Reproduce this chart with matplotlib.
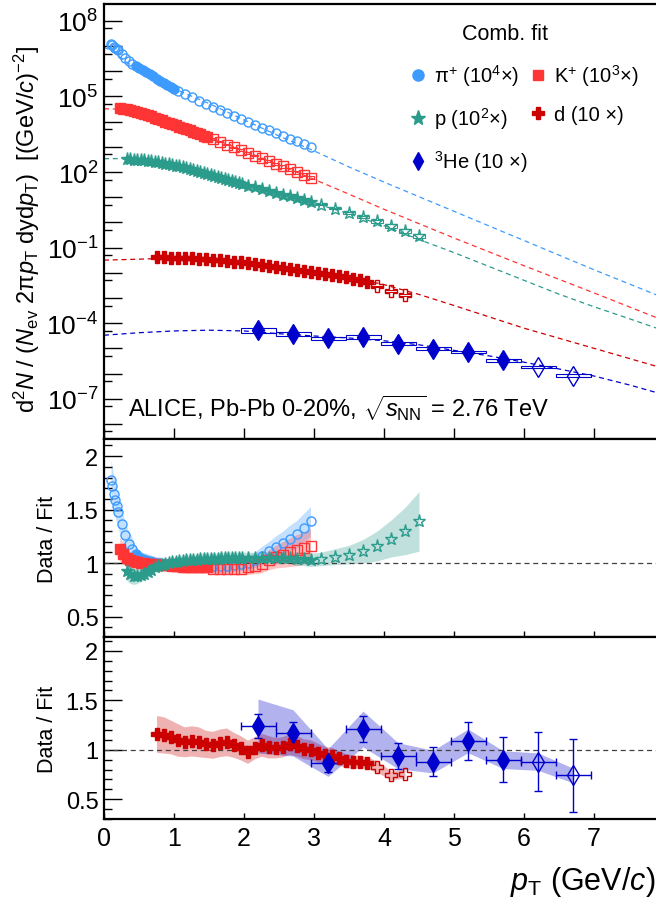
import numpy as np
import matplotlib
matplotlib.use('Agg')
import matplotlib.pyplot as plt
from matplotlib.patches import Rectangle
from matplotlib.lines import Line2D
from matplotlib.ticker import FixedLocator, FuncFormatter, NullFormatter

plt.rcParams['font.family'] = ['Liberation Sans', 'DejaVu Sans']
plt.rcParams['mathtext.fontset'] = 'custom'
plt.rcParams['mathtext.rm'] = 'Liberation Sans'
plt.rcParams['mathtext.it'] = 'Liberation Sans:italic'
plt.rcParams['mathtext.bf'] = 'Liberation Sans:bold'
plt.rcParams['mathtext.sf'] = 'Liberation Sans'

'''Data read off the picture (spectra as log10 of the scaled yield)'''
# pi+ : 10 open (low pT), 12 filled (fit range), 20 open (high pT)
pt_pi = [0.1, 0.12, 0.14, 0.16, 0.18, 0.2, 0.25, 0.3, 0.35, 0.4,
         0.45, 0.5, 0.55, 0.6, 0.65, 0.7, 0.75, 0.8, 0.85, 0.9, 0.95, 1.0,
         1.05, 1.15, 1.25, 1.35, 1.45, 1.55, 1.65, 1.75, 1.85, 1.95,
         2.05, 2.15, 2.25, 2.35, 2.45, 2.55, 2.65, 2.75, 2.85, 2.95]
logy_pi = [7.08, 7.03, 6.98, 6.93, 6.88, 6.83, 6.68, 6.53, 6.41, 6.30,
           6.2, 6.12, 6.04, 5.96, 5.88, 5.8, 5.71, 5.63, 5.55, 5.46, 5.38, 5.3,
           5.23, 5.09, 4.96, 4.83, 4.71, 4.59, 4.47, 4.35, 4.23, 4.11,
           3.99, 3.88, 3.76, 3.65, 3.54, 3.43, 3.32, 3.22, 3.11, 3.0]
ratio_pi = [1.78, 1.72, 1.65, 1.59, 1.53, 1.48, 1.37, 1.26, 1.18, 1.13,
            1.09, 1.06, 1.04, 1.03, 1.02, 1.01, 1.0, 1.0, 0.99, 0.99, 0.99, 0.99,
            0.98, 0.98, 0.97, 0.97, 0.97, 0.97, 0.97, 0.97, 0.98, 0.99,
            1.0, 1.03, 1.07, 1.11, 1.15, 1.19, 1.23, 1.27, 1.33, 1.39]
sys_pi = [0.1] * 10 + [0.06] * 12 + [0.06] * 10 + [0.07, 0.07, 0.08, 0.08, 0.09, 0.09, 0.1, 0.1, 0.1, 0.1]
fit_pt_pi = [0, 0.1, 0.2, 0.3, 0.4, 0.5, 0.75, 1.0, 1.5, 2.0, 2.5, 3.0, 3.5, 4.0, 4.5, 5.0, 6.0, 7.0, 8.0]
fit_pi = [6.95, 6.83, 6.63, 6.39, 6.23, 6.1, 5.7, 5.31, 4.72, 4.07, 3.43, 2.84, 2.2, 1.6, 1.02, 0.44, -0.72, -1.88, -3.0]

# K+ : 26 filled, 15 open
pt_k = [0.225, 0.275, 0.325, 0.375, 0.425, 0.475, 0.525, 0.575, 0.625, 0.675, 0.725, 0.775, 0.825,
        0.875, 0.925, 0.975, 1.025, 1.075, 1.125, 1.175, 1.225, 1.275, 1.325, 1.375, 1.425, 1.475,
        1.55, 1.65, 1.75, 1.85, 1.95, 2.05, 2.15, 2.25, 2.35, 2.45, 2.55, 2.65, 2.75, 2.85, 2.95]
logy_k = [4.54, 4.52, 4.49, 4.46, 4.43, 4.39, 4.35, 4.31, 4.26, 4.21, 4.16, 4.11, 4.05,
          4.0, 3.95, 3.9, 3.85, 3.8, 3.75, 3.7, 3.65, 3.6, 3.54, 3.49, 3.44, 3.39,
          3.31, 3.2, 3.09, 2.98, 2.87, 2.76, 2.65, 2.54, 2.43, 2.32, 2.22, 2.11, 2.0, 1.89, 1.78]
ratio_k = [1.13, 1.09, 1.05, 1.03, 1.02, 1.01, 1.0, 1.0, 0.99, 0.99, 0.99, 0.98, 0.98,
           0.98, 0.98, 0.97, 0.97, 0.97, 0.96, 0.96, 0.96, 0.96, 0.96, 0.96, 0.96, 0.96,
           0.95, 0.95, 0.95, 0.95, 0.95, 0.96, 0.97, 0.99, 1.03, 1.06, 1.08, 1.1, 1.12, 1.14, 1.16]
sys_k = [0.1, 0.09, 0.08, 0.07, 0.06] + [0.05] * 21 + [0.05, 0.05, 0.05, 0.06, 0.06, 0.07, 0.07, 0.08, 0.09, 0.1, 0.11, 0.12, 0.13, 0.13, 0.14]
fit_pt_k = [0, 0.2, 0.5, 1.0, 1.5, 2.0, 2.5, 3.0, 3.5, 4.0, 4.5, 5.0, 6.0, 7.0, 8.0]
fit_k = [4.51, 4.5, 4.37, 3.88, 3.39, 2.84, 2.28, 1.71, 1.12, 0.52, -0.05, -0.62, -1.72, -2.8, -3.9]

# p : 44 filled, 8 open
pt_p = [0.325, 0.375, 0.425, 0.475, 0.525, 0.575, 0.625, 0.675, 0.725, 0.775, 0.825, 0.875,
        0.925, 0.975, 1.025, 1.075, 1.125, 1.175, 1.225, 1.275, 1.325, 1.375, 1.425, 1.475,
        1.525, 1.575, 1.625, 1.675, 1.725, 1.775, 1.825, 1.875, 1.925, 1.975,
        2.05, 2.15, 2.25, 2.35, 2.45, 2.55, 2.65, 2.75, 2.85, 2.95,
        3.1, 3.3, 3.5, 3.7, 3.9, 4.1, 4.3, 4.5]
logy_p = [2.50, 2.50, 2.49, 2.48, 2.47, 2.46, 2.44, 2.42, 2.40, 2.38, 2.36, 2.33,
          2.31, 2.28, 2.25, 2.22, 2.19, 2.15, 2.12, 2.08, 2.04, 2.0, 1.96, 1.92,
          1.88, 1.84, 1.80, 1.76, 1.72, 1.68, 1.64, 1.60, 1.56, 1.52,
          1.46, 1.39, 1.31, 1.24, 1.17, 1.1, 1.03, 0.96, 0.89, 0.82,
          0.7, 0.55, 0.38, 0.21, 0.04, -0.14, -0.33, -0.53]
ratio_p = [0.93, 0.9, 0.88, 0.88, 0.89, 0.9, 0.92, 0.94, 0.96, 0.97, 0.98, 0.99,
           1.0, 1.01, 1.01, 1.02, 1.02, 1.03, 1.03, 1.03, 1.03, 1.04, 1.04, 1.04,
           1.04, 1.04, 1.04, 1.05, 1.05, 1.05, 1.05, 1.05, 1.05, 1.05,
           1.05, 1.05, 1.05, 1.05, 1.05, 1.05, 1.05, 1.04, 1.04, 1.03,
           1.04, 1.06, 1.08, 1.11, 1.16, 1.23, 1.3, 1.39]
sys_p = [0.1, 0.1, 0.09, 0.08, 0.07, 0.06] + [0.05] * 28 + [0.05] * 7 + [0.06, 0.06, 0.06] + \
        [0.06, 0.07, 0.08, 0.1, 0.12, 0.14, 0.17, 0.2]
fit_pt_p = [0, 0.3, 0.5, 1.0, 1.5, 2.0, 2.5, 3.0, 3.5, 4.0, 4.5, 5.0, 5.5, 6.0, 6.5, 7.0, 7.5, 8.0]
fit_p = [2.53, 2.53, 2.51, 2.24, 1.88, 1.47, 1.11, 0.77, 0.34, -0.13, -0.68, -1.2, -1.75, -2.3, -2.85, -3.35, -3.82, -4.3]

# d : 31 filled, 3 open
pt_d = [0.75, 0.85, 0.95, 1.05, 1.15, 1.25, 1.35, 1.45, 1.55, 1.65, 1.75, 1.85, 1.95, 2.05, 2.15, 2.25,
        2.35, 2.45, 2.55, 2.65, 2.75, 2.85, 2.95, 3.05, 3.15, 3.25, 3.35, 3.45, 3.55, 3.65, 3.75,
        3.9, 4.1, 4.3]
logy_d = [-1.38, -1.39, -1.40, -1.41, -1.42, -1.43, -1.45, -1.47, -1.49, -1.51, -1.54, -1.56, -1.59,
          -1.62, -1.66, -1.70, -1.73, -1.77, -1.80, -1.84, -1.88, -1.92, -1.96, -2.0, -2.04, -2.08,
          -2.13, -2.18, -2.23, -2.29, -2.35, -2.54, -2.72, -2.88]
ratio_d = [1.16, 1.15, 1.13, 1.1, 1.08, 1.09, 1.08, 1.06, 1.05, 1.07, 1.08, 1.05, 1.02, 0.98, 1.02, 1.05,
           1.03, 1.02, 1.03, 1.06, 1.04, 1.01, 1.0, 0.97, 0.95, 0.94, 0.92, 0.89, 0.88, 0.88, 0.87,
           0.83, 0.74, 0.76]
sys_d = [0.16, 0.16, 0.15, 0.15, 0.14, 0.14, 0.14, 0.13, 0.13, 0.13, 0.13, 0.12, 0.12, 0.12, 0.11, 0.11,
         0.11, 0.1, 0.1, 0.1, 0.1, 0.1, 0.1, 0.1, 0.09, 0.09, 0.08, 0.08, 0.08, 0.07, 0.07,
         0.07, 0.06, 0.06]
fit_pt_d = [0, 0.5, 0.75, 1.0, 1.5, 2.0, 2.5, 3.0, 3.5, 4.0, 4.5, 5.0, 6.0, 7.0, 8.0]
fit_d = [-1.5, -1.46, -1.44, -1.45, -1.51, -1.62, -1.79, -1.97, -2.17, -2.47, -2.86, -3.3, -4.2, -5.0, -5.8]

# 3He : 8 filled, 2 open
pt_he = [2.2, 2.7, 3.2, 3.7, 4.2, 4.7, 5.2, 5.7, 6.2, 6.7]
logy_he = [-4.28, -4.42, -4.61, -4.55, -4.81, -5.01, -5.14, -5.48, -5.74, -6.08]
ratio_he = [1.24, 1.17, 0.87, 1.21, 0.94, 0.88, 1.09, 0.9, 0.88, 0.74]
stat_he = [0.12, 0.11, 0.09, 0.13, 0.13, 0.15, 0.19, 0.23, 0.3, 0.37]
sys_he = [0.22, 0.2, 0.16, 0.15, 0.14, 0.13, 0.11, 0.1, 0.1, 0.1]
fit_pt_he = [0, 0.5, 1.0, 1.5, 2.0, 2.5, 3.0, 3.5, 4.0, 4.5, 5.0, 5.5, 6.0, 6.5, 7.0, 7.5, 8.0]
fit_he = [-4.48, -4.38, -4.31, -4.28, -4.31, -4.42, -4.51, -4.59, -4.7, -4.86, -5.08, -5.3, -5.55, -5.82, -6.1, -6.45, -6.84]

c_pi, c_k, c_p, c_d, c_he = '#3d9bff', '#ff3535', '#2b9b8c', '#cc0000', '#0000cc'

'''Figure and the three pads'''
W, H = 656, 903
fig = plt.figure(figsize=(W / 100, H / 100), dpi=100)

def pad(l, t, r, b):
    return [l / W, 1 - b / H, (r - l) / W, (b - t) / H]

ax1 = fig.add_axes(pad(104, 5, 664, 440))
ax2 = fig.add_axes(pad(104, 440, 664, 638))
ax3 = fig.add_axes(pad(104, 638, 664, 820))

DASH = (0, (4, 3))

def points(ax, x, y, lo, hi, marker, ms, color, filled):
    x = np.asarray(x)[lo:hi]
    y = np.asarray(y)[lo:hi]
    if filled:
        ax.plot(x, y, ls='none', marker=marker, ms=ms, color=color, mec=color, zorder=4)
    else:
        ax.plot(x, y, ls='none', marker=marker, ms=ms, mfc='none', mec=color, mew=1.0, zorder=4)

def boxes(ax, x, y, frac, half, color):
    for xi, yi, fi in zip(x, y, frac):
        ax.add_patch(Rectangle((xi - half, yi * (1 - fi)), 2 * half, 2 * yi * fi,
                               fill=False, ec=color, lw=0.8, zorder=3))

'''Top: spectra'''
sp_pi = 10 ** np.array(logy_pi)
sp_k = 10 ** np.array(logy_k)
sp_p = 10 ** np.array(logy_p)
sp_d = 10 ** np.array(logy_d)
sp_he = 10 ** np.array(logy_he)

ax1.plot(fit_pt_pi, 10 ** np.array(fit_pi), ls=DASH, lw=0.9, color=c_pi, zorder=2)
ax1.plot(fit_pt_k, 10 ** np.array(fit_k), ls=DASH, lw=0.9, color=c_k, zorder=2)
ax1.plot(fit_pt_p, 10 ** np.array(fit_p), ls=DASH, lw=0.9, color=c_p, zorder=2)
ax1.plot(fit_pt_d, 10 ** np.array(fit_d), ls=DASH, lw=0.9, color=c_d, zorder=2)
ax1.plot(fit_pt_he, 10 ** np.array(fit_he), ls=DASH, lw=0.9, color=c_he, zorder=2)

boxes(ax1, pt_k[26:], sp_k[26:], sys_k[26:], 0.05, c_k)
boxes(ax1, pt_p[44:], sp_p[44:], sys_p[44:], 0.08, c_p)
boxes(ax1, pt_d[31:], sp_d[31:], sys_d[31:], 0.08, c_d)
boxes(ax1, pt_he, sp_he, sys_he, 0.25, c_he)

points(ax1, pt_pi, sp_pi, 0, 10, 'o', 6.5, c_pi, False)
points(ax1, pt_pi, sp_pi, 10, 22, 'o', 6.5, c_pi, True)
points(ax1, pt_pi, sp_pi, 22, None, 'o', 6.5, c_pi, False)
points(ax1, pt_k, sp_k, 0, 26, 's', 6.5, c_k, True)
points(ax1, pt_k, sp_k, 26, None, 's', 6.5, c_k, False)
points(ax1, pt_p, sp_p, 0, 44, '*', 9.5, c_p, True)
points(ax1, pt_p, sp_p, 44, None, '*', 9.5, c_p, False)
points(ax1, pt_d, sp_d, 0, 31, 'P', 9, c_d, True)
points(ax1, pt_d, sp_d, 31, None, 'P', 9, c_d, False)
points(ax1, pt_he, sp_he, 0, 8, 'd', 10, c_he, True)
points(ax1, pt_he, sp_he, 8, None, 'd', 10, c_he, False)

ax1.set_yscale('log')
ax1.set_ylim(10 ** -8.6, 10 ** 8.67)
ax1.yaxis.set_major_locator(FixedLocator(10.0 ** np.arange(-9, 10)))
ax1.yaxis.set_minor_locator(FixedLocator(5 * 10.0 ** np.arange(-10, 9)))
ax1.yaxis.set_minor_formatter(NullFormatter())

def dec_label(v, pos):
    e = int(round(np.log10(v)))
    if e in (8, 5, 2, -1, -4, -7):
        return r'10$^{%d}$' % e if e >= 0 else r'10$^{\mathsf{-}%d}$' % (-e)
    return ''

ax1.yaxis.set_major_formatter(FuncFormatter(dec_label))
ax1.set_ylabel(r'd$^{2}$$N$ / ($N_{\rm ev}$ 2π$p_{\rm T}$ dyd$p_{\rm T}$)  [(GeV/$c$)$^{-2}$]', fontsize=17)
ax1.yaxis.set_label_coords(-0.11, 0.485)

ax1.text(0.043, 0.074, r'ALICE, Pb-Pb 0-20%, $\sqrt{s_{\rm NN}}$ = 2.76 TeV',
         transform=ax1.transAxes, fontsize=17, va='center', ha='left')

ax1.text((505 - 104) / 560, (440 - 34) / 435, 'Comb. fit', transform=ax1.transAxes,
         fontsize=15.5, ha='center', va='center')
handles = [Line2D([], [], ls='none', marker='o', ms=8, color=c_pi),
           Line2D([], [], ls='none', marker='*', ms=11, color=c_p),
           Line2D([], [], ls='none', marker='d', ms=9, color=c_he),
           Line2D([], [], ls='none', marker='s', ms=7, color=c_k),
           Line2D([], [], ls='none', marker='P', ms=9, color=c_d)]
labels = ['π$^{+}$ (10$^{4}$×)', 'p (10$^{2}$×)', '$^{3}$He (10 ×)',
          'K$^{+}$ (10$^{3}$×)', 'd (10 ×)']
leg = ax1.legend(handles, labels, ncol=2, loc='upper left',
                 bbox_to_anchor=((408 - 104) / 560, (440 - 63) / 435), frameon=False, fontsize=14.5,
                 handletextpad=0.3, columnspacing=0.0, labelspacing=0.85, handlelength=1.0,
                 borderpad=0, borderaxespad=0)

'''Middle: Data / Fit for pi, K, p'''
ax2.fill_between(pt_pi, np.array(ratio_pi) * (1 - np.array(sys_pi)), np.array(ratio_pi) * (1 + np.array(sys_pi)),
                 color=c_pi, alpha=0.3, lw=0, zorder=1)
ax2.fill_between(pt_k, np.array(ratio_k) * (1 - np.array(sys_k)), np.array(ratio_k) * (1 + np.array(sys_k)),
                 color=c_k, alpha=0.3, lw=0, zorder=1)
ax2.fill_between(pt_p, np.array(ratio_p) * (1 - np.array(sys_p)), np.array(ratio_p) * (1 + np.array(sys_p)),
                 color=c_p, alpha=0.3, lw=0, zorder=1)
points(ax2, pt_pi, ratio_pi, 0, 10, 'o', 6.5, c_pi, False)
points(ax2, pt_pi, ratio_pi, 10, 22, 'o', 6.5, c_pi, True)
points(ax2, pt_pi, ratio_pi, 22, None, 'o', 6.5, c_pi, False)
points(ax2, pt_k, ratio_k, 0, 26, 's', 6.5, c_k, True)
points(ax2, pt_k, ratio_k, 26, None, 's', 6.5, c_k, False)
points(ax2, pt_p, ratio_p, 0, 44, '*', 9.5, c_p, True)
points(ax2, pt_p, ratio_p, 44, None, '*', 9.5, c_p, False)
ax2.set_ylim(0.31, 2.16)

'''Bottom: Data / Fit for d, 3He'''
ax3.fill_between(pt_d, np.array(ratio_d) * (1 - np.array(sys_d)), np.array(ratio_d) * (1 + np.array(sys_d)),
                 color=c_d, alpha=0.3, lw=0, zorder=1)
ax3.fill_between(pt_he, np.array(ratio_he) * (1 - np.array(sys_he)), np.array(ratio_he) * (1 + np.array(sys_he)),
                 color=c_he, alpha=0.3, lw=0, zorder=1)
ax3.errorbar(pt_he, ratio_he, xerr=0.25, yerr=stat_he, fmt='none', ecolor=c_he,
             elinewidth=1, capsize=3, capthick=1, zorder=3)
points(ax3, pt_d, ratio_d, 0, 31, 'P', 9, c_d, True)
points(ax3, pt_d, ratio_d, 31, None, 'P', 9, c_d, False)
points(ax3, pt_he, ratio_he, 0, 8, 'd', 10, c_he, True)
points(ax3, pt_he, ratio_he, 8, None, 'd', 10, c_he, False)
ax3.set_ylim(0.30, 2.14)

for ax in (ax2, ax3):
    ax.axhline(1, color='0.25', ls=DASH, lw=0.9, zorder=2)
    ax.yaxis.set_major_locator(FixedLocator([0.5, 1.0, 1.5, 2.0]))
    ax.yaxis.set_minor_locator(FixedLocator(np.arange(0.3, 2.2, 0.1)))
    ax.yaxis.set_major_formatter(FuncFormatter(lambda v, p: '%g' % v))
    ax.set_ylabel('Data / Fit', fontsize=15.5, family=['Liberation Sans Narrow', 'Liberation Sans'])
    ax.yaxis.set_label_coords(-0.083, 0.5)
    ax.tick_params(axis='y', which='major', labelsize=17, pad=4)

for ax in (ax1, ax2, ax3):
    ax.set_xlim(0, 8)
    ax.xaxis.set_major_locator(FixedLocator(range(0, 9)))
    ax.tick_params(axis='both', which='both', direction='in', width=1, top=False, right=False)
    ax.tick_params(axis='y', which='major', length=13)
    ax.tick_params(axis='y', which='minor', length=6)
    for s in ax.spines.values():
        s.set_linewidth(1.6)
ax1.tick_params(axis='y', which='major', labelsize=19, pad=4)
ax1.tick_params(axis='x', which='major', length=8, labelbottom=False)
ax2.tick_params(axis='x', which='major', length=4, labelbottom=False)
ax3.tick_params(axis='x', which='major', length=4, labelsize=18, pad=5)
ax3.set_xticklabels([str(i) for i in range(0, 8)] + [''])

fig.text(655 / W, 1 - 882 / H, r'$p_{\rm T}$ (GeV/$c$)', ha='right', va='center', fontsize=22)

fig.savefig('out.png', dpi=100)
plt.close(fig)
